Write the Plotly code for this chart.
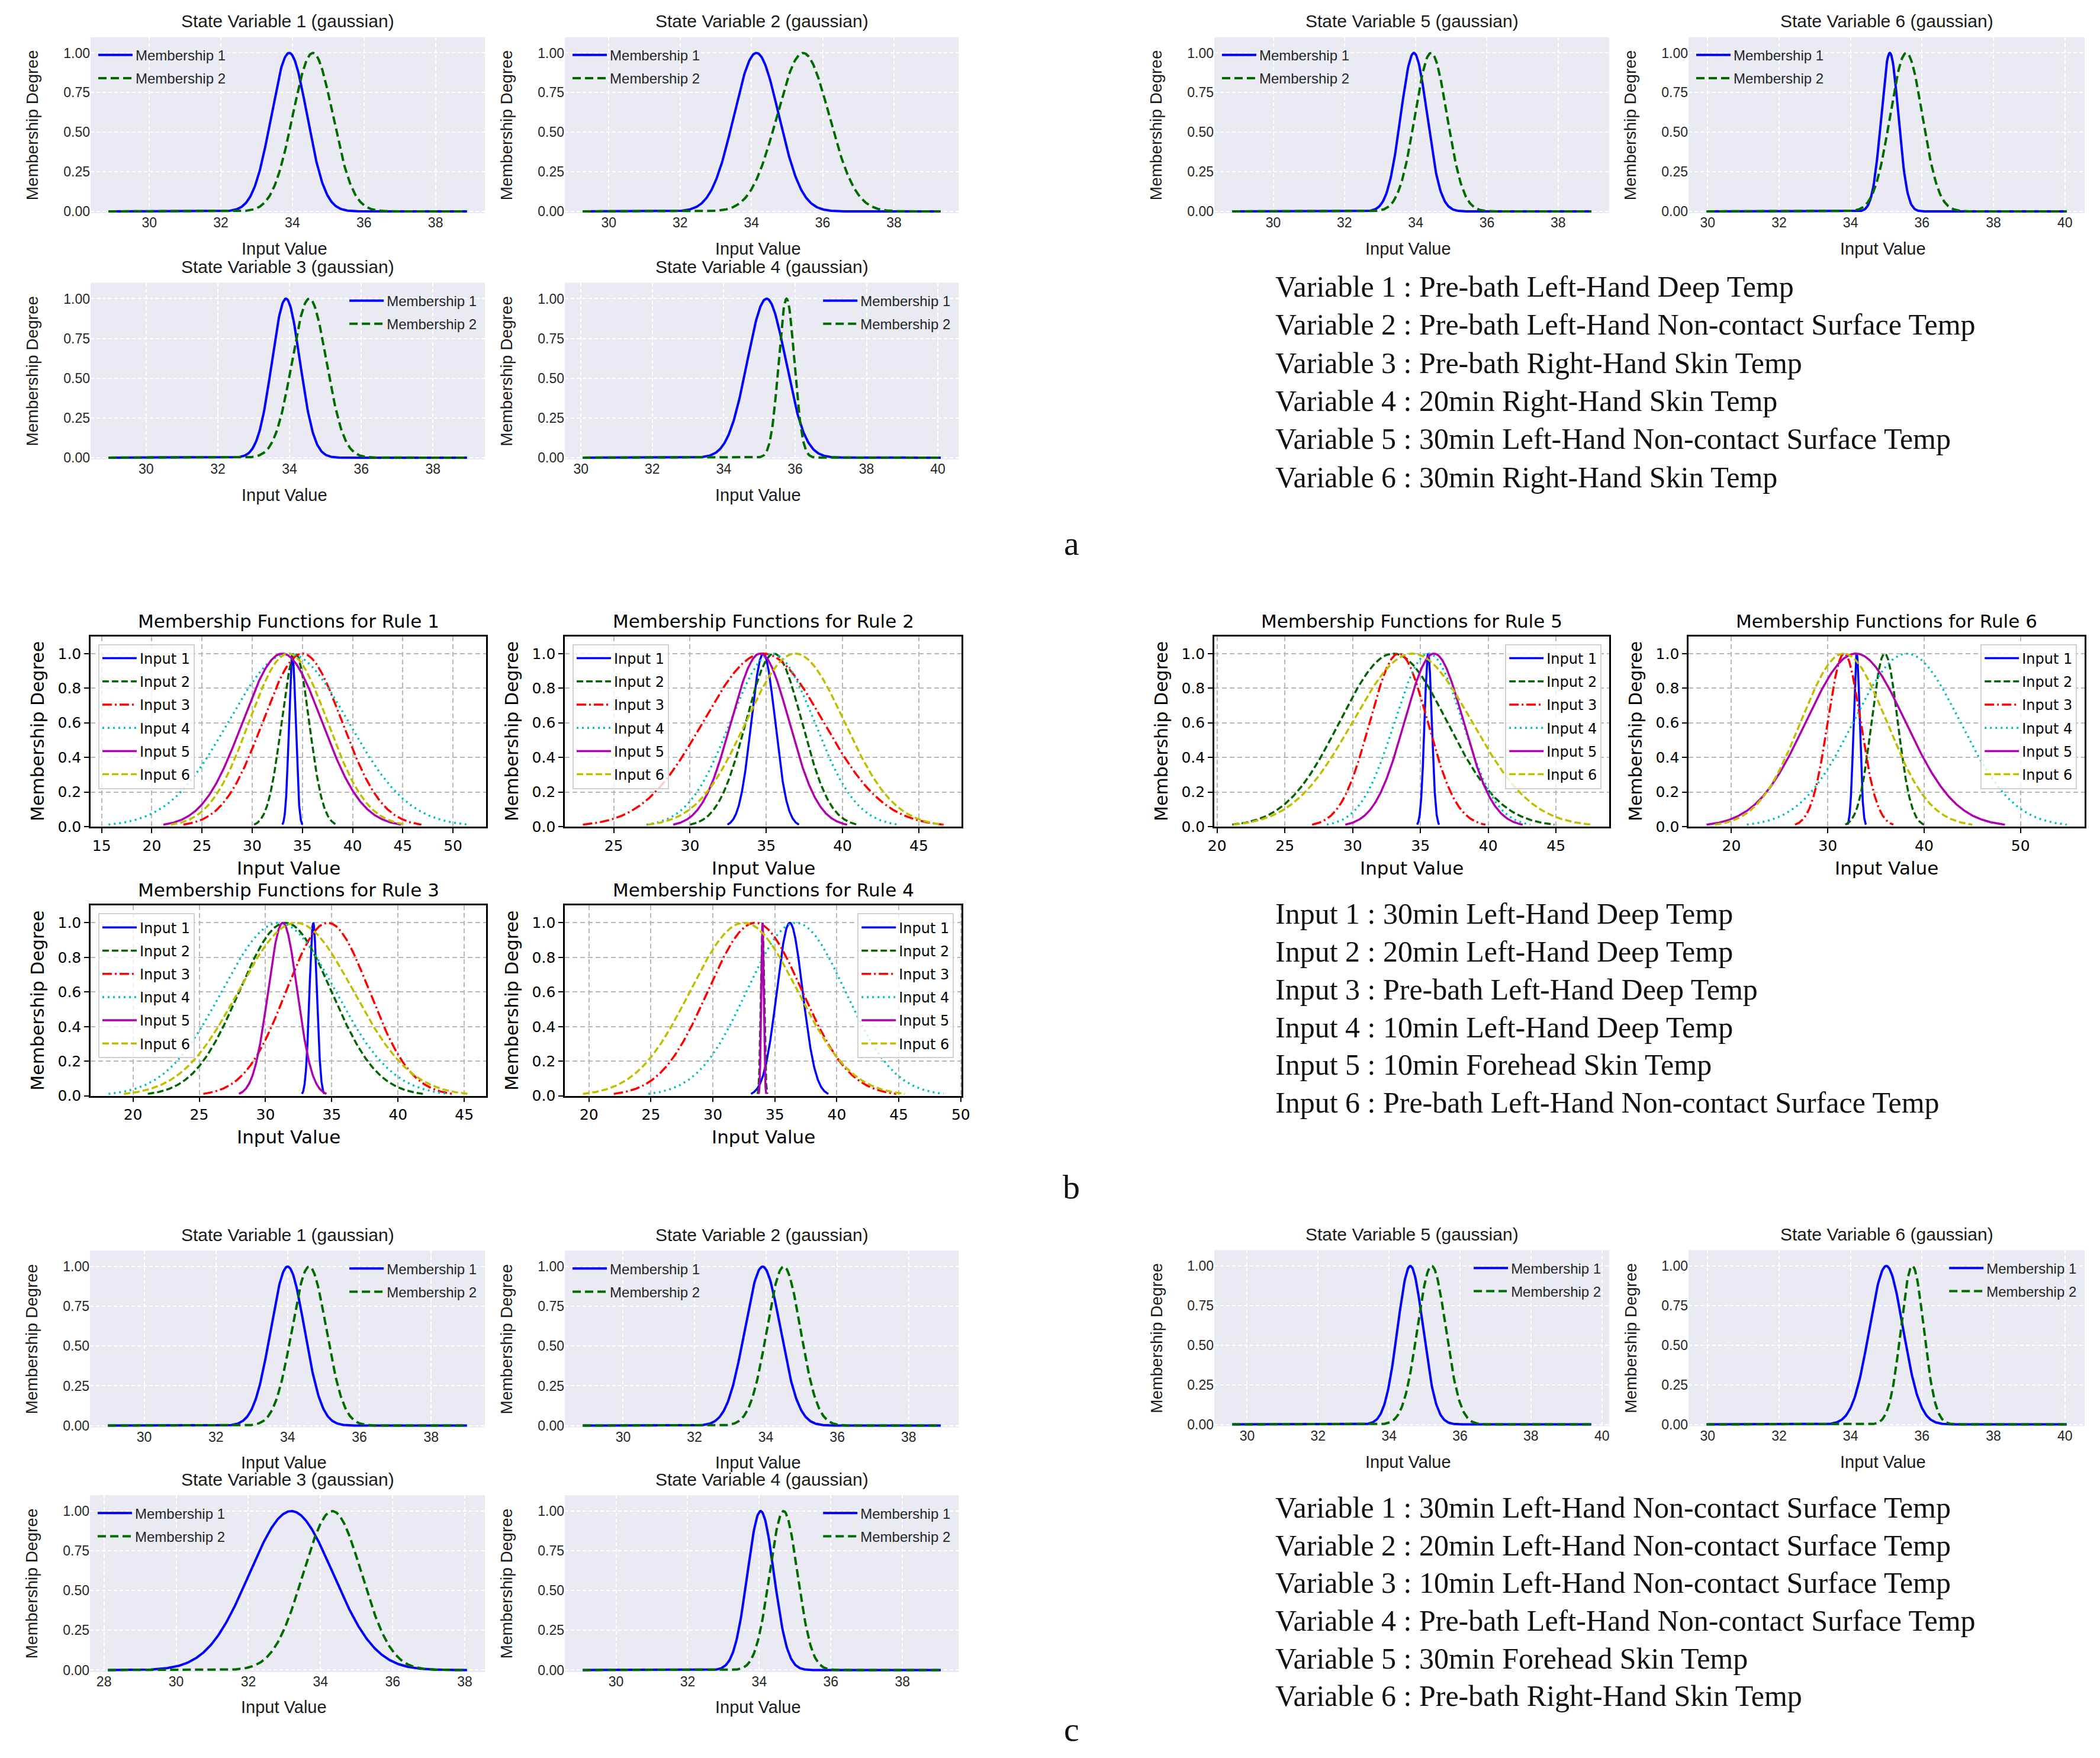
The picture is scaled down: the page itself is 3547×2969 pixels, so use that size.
import numpy as np
import plotly.graph_objects as go

W, H = 3547, 2969

# ---- panel a : state variable membership functions (before) ----
A_TITLES = [f"State Variable {i} (gaussian)" for i in range(1, 7)]
A_XLO = [28.86, 29.27, 28.95, 30.05, 28.85, 29.97]
A_XHI = [38.88, 39.31, 38.95, 40.08, 38.93, 40.05]
A_M1_C = [33.91, 34.14, 33.90, 35.20, 33.95, 35.10]
A_M1_S = [0.50, 0.63, 0.39, 0.54, 0.37, 0.24]
A_M2_C = [34.57, 35.45, 34.55, 35.76, 34.43, 35.56]
A_M2_S = [0.56, 0.73, 0.48, 0.22, 0.45, 0.45]
A_LEGEND_SIDE = ["left", "left", "right", "right", "left", "left"]
A_NOTES = [
    "Variable 1 : Pre-bath Left-Hand Deep Temp",
    "Variable 2 : Pre-bath Left-Hand Non-contact Surface Temp",
    "Variable 3 : Pre-bath Right-Hand Skin Temp",
    "Variable 4 : 20min Right-Hand Skin Temp",
    "Variable 5 : 30min Left-Hand Non-contact Surface Temp",
    "Variable 6 : 30min Right-Hand Skin Temp",
]

# ---- panel b : rule membership functions ----
B_TITLES = [f"Membership Functions for Rule {i}" for i in range(1, 7)]
B_INPUTS = [f"Input {i}" for i in range(1, 7)]
B_CENTERS = [
    [34.0, 34.3, 35.0, 33.6, 33.0, 33.6],
    [34.8, 35.5, 34.8, 35.4, 34.6, 36.9],
    [33.6, 31.5, 34.7, 31.0, 31.3, 32.3],
    [36.2, 34.0, 33.4, 36.7, 34.0, 32.5],
    [35.57, 33.0, 33.4, 35.6, 36.0, 34.4],
    [33.0, 35.9, 31.7, 38.2, 32.9, 31.65],
]
B_SIGMAS = [
    [0.33, 1.37, 3.95, 5.97, 3.95, 3.90],
    [0.78, 1.83, 3.94, 2.75, 1.90, 3.22],
    [0.28, 3.46, 3.13, 4.28, 1.10, 4.33],
    [1.04, 0.13, 3.80, 3.97, 0.10, 4.33],
    [0.27, 3.96, 2.13, 2.50, 2.18, 4.40],
    [0.32, 1.36, 1.70, 5.53, 5.16, 4.45],
]
B_DTICK = [5, 5, 5, 5, 5, 10]
B_LEGEND_SIDE = ["left", "left", "left", "right", "right", "right"]
B_NOTES = [
    "Input 1 : 30min Left-Hand Deep Temp",
    "Input 2 : 20min Left-Hand Deep Temp",
    "Input 3 : Pre-bath Left-Hand Deep Temp",
    "Input 4 : 10min Left-Hand Deep Temp",
    "Input 5 : 10min Forehead Skin Temp",
    "Input 6 : Pre-bath Left-Hand Non-contact Surface Temp",
]

# ---- panel c : state variable membership functions (after) ----
C_XLO = [28.99, 28.87, 28.11, 29.07, 29.58, 29.97]
C_XHI = [39.00, 38.90, 38.06, 39.07, 39.70, 40.05]
C_M1_C = [34.00, 33.91, 33.19, 34.04, 34.60, 35.00]
C_M1_S = [0.47, 0.50, 1.16, 0.37, 0.36, 0.47]
C_M2_C = [34.60, 34.50, 34.33, 34.68, 35.20, 35.73]
C_M2_S = [0.48, 0.47, 0.81, 0.39, 0.40, 0.32]
C_LEGEND_SIDE = ["right", "left", "left", "right", "right", "right"]
C_NOTES = [
    "Variable 1 : 30min Left-Hand Non-contact Surface Temp",
    "Variable 2 : 20min Left-Hand Non-contact Surface Temp",
    "Variable 3 : 10min Left-Hand Non-contact Surface Temp",
    "Variable 4 : Pre-bath Left-Hand Non-contact Surface Temp",
    "Variable 5 : 30min Forehead Skin Temp",
    "Variable 6 : Pre-bath Right-Hand Skin Temp",
]

# panel boxes in pixels (x0, x1, y0, y1), y measured from top
A_BOX = [(135, 806, 55, 354), (942, 1612, 55, 354), (135, 806, 472, 772),
         (942, 1612, 472, 772), (2047, 2719, 55, 354), (2854, 3528, 55, 354)]
B_BOX = [(135, 808, 1072, 1395), (942, 1617, 1072, 1395), (135, 808, 1529, 1852),
         (942, 1617, 1529, 1852), (2047, 2719, 1072, 1395), (2854, 3528, 1072, 1395)]
C_BOX = [(134, 806, 2115, 2415), (942, 1612, 2115, 2415), (134, 806, 2530, 2830),
         (942, 1612, 2530, 2830), (2047, 2719, 2114, 2413), (2854, 3528, 2114, 2413)]

B_COLORS = ["#0000ff", "#006400", "#ff0000", "#00bfbf", "#b000b0", "#bfbf00"]
B_DASH = ["solid", "11px,5px", "16px,5px,3px,5px", "3px,6px", "solid", "11px,5px"]

SANS = "Liberation Sans"
DEJ = "DejaVu Sans"
SERIF = "Liberation Serif"

fig = go.Figure()
layout = {}
annotations = []
shapes = []


def sfx(n):
    return "" if n == 1 else str(n)


def gauss(x, c, s):
    return np.exp(-0.5 * ((x - c) / s) ** 2)


def text(x, y, s, size, family, color="#1a1a1a", angle=0, xanchor="center"):
    annotations.append(dict(x=x / W, y=1 - y / H, xref="paper", yref="paper", text=s,
                            showarrow=False, textangle=angle, xanchor=xanchor, yanchor="middle",
                            font=dict(size=size, family=family, color=color)))


def legend_pos(n, box, side, pad, framed):
    x0, x1, y0, y1 = box
    key = "legend" + sfx(n)
    d = dict(y=1 - (y0 + pad) / H, yanchor="top", itemwidth=58, tracegroupgap=5,
             traceorder="grouped", itemclick=False)
    if side == "left":
        d.update(x=(x0 + pad) / W, xanchor="left")
    else:
        d.update(x=(x1 - pad) / W, xanchor="right")
    if framed:
        d.update(bgcolor="rgba(255,255,255,0.8)", bordercolor="#d0d0d0", borderwidth=2,
                 font=dict(family=DEJ, size=24, color="black"))
    else:
        d.update(bgcolor="rgba(0,0,0,0)", borderwidth=0,
                 font=dict(family=SANS, size=24, color="#262626"))
    layout[key] = d
    return key


def state_panel(n, box, title, lo, hi, c1, s1, c2, s2, side):
    x0, x1, y0, y1 = box
    x = np.linspace(lo, hi, 500)
    leg = legend_pos(n, box, side, 8, False)
    fig.add_trace(go.Scatter(x=x, y=gauss(x, c1, s1), mode="lines", name="Membership 1",
                             line=dict(color="#0000ff", width=4), xaxis="x" + sfx(n),
                             yaxis="y" + sfx(n), legend=leg, legendgroup=f"g{n}a"))
    fig.add_trace(go.Scatter(x=x, y=gauss(x, c2, s2), mode="lines", name="Membership 2",
                             line=dict(color="#006a00", width=4, dash="14px,7px"),
                             xaxis="x" + sfx(n), yaxis="y" + sfx(n), legend=leg,
                             legendgroup=f"g{n}b"))
    m = 0.05 * (hi - lo)
    tf = dict(family=SANS, size=23, color="#262626")
    layout["xaxis" + sfx(n)] = dict(domain=[x0 / W, x1 / W], anchor="y" + sfx(n),
                                    range=[lo - m, hi + m], tick0=0, dtick=2, showgrid=True,
                                    gridcolor="white", gridwidth=2, griddash="6px,4px",
                                    zeroline=False, showline=False, ticks="", tickfont=tf)
    layout["yaxis" + sfx(n)] = dict(domain=[1 - y1 / H, 1 - y0 / H], anchor="x" + sfx(n),
                                    range=[-0.012, 1.1], tick0=0, dtick=0.25, tickformat=".2f",
                                    showgrid=True, gridcolor="white", gridwidth=2,
                                    griddash="6px,4px", zeroline=False, showline=False,
                                    ticks="", tickfont=tf)
    shapes.append(dict(type="rect", xref="x" + sfx(n) + " domain", yref="y" + sfx(n) + " domain",
                       x0=0, x1=1, y0=0, y1=1, fillcolor="#eaeaf2", line=dict(width=0),
                       layer="below"))
    text((x0 + x1) / 2, y0 - 27, title, 30, SANS)
    text((x0 + x1) / 2 - 6, y1 + 60, "Input Value", 29, SANS)
    text(x0 - 99, (y0 + y1) / 2, "Membership Degree", 28, SANS, angle=-90)


n = 0
for i in range(6):
    n += 1
    state_panel(n, A_BOX[i], A_TITLES[i], A_XLO[i], A_XHI[i], A_M1_C[i], A_M1_S[i],
                A_M2_C[i], A_M2_S[i], A_LEGEND_SIDE[i])

for i in range(6):
    n += 1
    x0, x1, y0, y1 = B_BOX[i]
    leg = legend_pos(n, B_BOX[i], B_LEGEND_SIDE[i], 13, True)
    lo_all, hi_all = [], []
    for k in range(6):
        c, s = B_CENTERS[i][k], B_SIGMAS[i][k]
        x = np.linspace(c - 3 * s, c + 3 * s, 300)
        lo_all.append(x[0])
        hi_all.append(x[-1])
        fig.add_trace(go.Scatter(x=x, y=gauss(x, c, s), mode="lines", name=B_INPUTS[k],
                                 line=dict(color=B_COLORS[k], width=3.5, dash=B_DASH[k]),
                                 xaxis="x" + sfx(n), yaxis="y" + sfx(n), legend=leg,
                                 legendgroup=f"g{n}_{k}"))
    lo, hi = min(lo_all), max(hi_all)
    m = 0.05 * (hi - lo)
    tf = dict(family=DEJ, size=25, color="black")
    common = dict(showgrid=True, gridcolor="#b8b8b8", gridwidth=1.5, griddash="8px,5px",
                  zeroline=False, showline=True, mirror=True, linecolor="black", linewidth=2.5,
                  ticks="outside", ticklen=8, tickwidth=2, tickcolor="black", tickfont=tf)
    layout["xaxis" + sfx(n)] = dict(domain=[x0 / W, x1 / W], anchor="y" + sfx(n),
                                    range=[lo - m, hi + m], tick0=0, dtick=B_DTICK[i], **common)
    layout["yaxis" + sfx(n)] = dict(domain=[1 - y1 / H, 1 - y0 / H], anchor="x" + sfx(n),
                                    range=[0, 1.1], tick0=0, dtick=0.2, tickformat=".1f", **common)
    text((x0 + x1) / 2, y0 - 26, B_TITLES[i], 31, DEJ, color="black")
    text((x0 + x1) / 2, y1 + 70, "Input Value", 31, DEJ, color="black")
    text(x0 - 90, (y0 + y1) / 2, "Membership Degree", 30, DEJ, color="black", angle=-90)

for i in range(6):
    n += 1
    state_panel(n, C_BOX[i], A_TITLES[i], C_XLO[i], C_XHI[i], C_M1_C[i], C_M1_S[i],
                C_M2_C[i], C_M2_S[i], C_LEGEND_SIDE[i])

# variable descriptions and section letters
for notes, top, gap in [(A_NOTES, 478, 64.8), (B_NOTES, 1543, 64.1), (C_NOTES, 2551, 64.0)]:
    for k, s in enumerate(notes):
        text(2149, top + k * gap, s, 50, SERIF, color="#111111", xanchor="left")

for s, y in [("a", 914), ("b", 2007), ("c", 2927)]:
    text(1804, y, s, 58, SERIF, color="#111111")

fig.update_layout(width=W, height=H, margin=dict(l=0, r=0, t=0, b=0),
                  paper_bgcolor="white", plot_bgcolor="white",
                  annotations=annotations, shapes=shapes, **layout)
fig.write_html("out.html")
